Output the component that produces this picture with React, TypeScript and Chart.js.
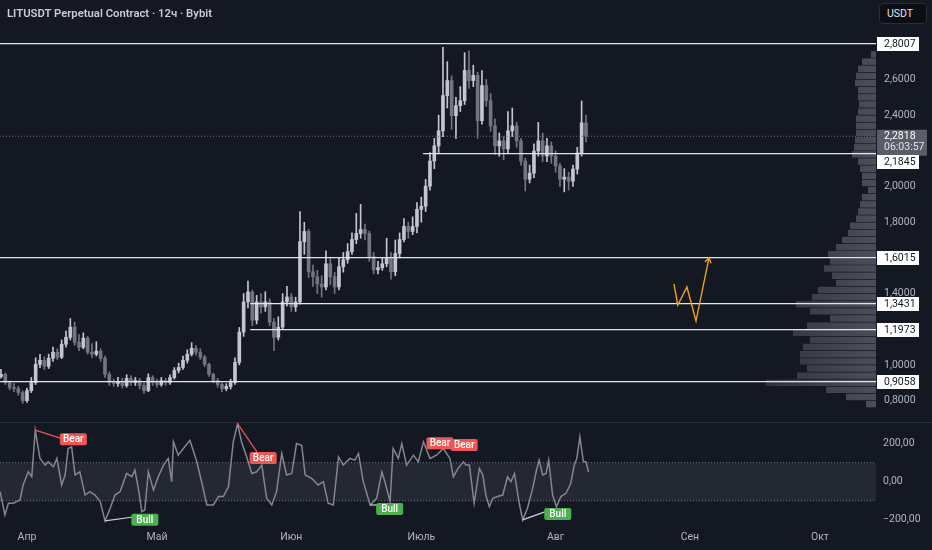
import React, { useEffect, useRef } from "react";
import { Chart, registerables } from "chart.js";

Chart.register(...registerables);

const FONT = "Roboto, 'Noto Sans', 'DejaVu Sans', sans-serif";
const BG = "#141823";
const AXIS_TEXT = "#b2b5be";

// ---------------- time axis (day 0 = 1 Apr) ----------------
const X_MIN = -6.23;
const X_MAX = 195.94;
const monthTickDays = [0, 30, 61, 91, 122, 153, 183];
const monthLabels = ["Апр", "Май", "Июн", "Июль", "Авг", "Сен", "Окт"];

// ---------------- price pane ----------------
const Y_MIN = 0.68;
const Y_MAX = 3.0456;
const priceTicks = [0.8, 1.0, 1.2, 1.4, 1.6, 1.8, 2.0, 2.2, 2.4, 2.6, 2.8];

const FIRST_DAY = -6; // first daily candle
const firstOpen = 0.935;
const closes = [
  0.947, 0.901, 0.873, 0.867, 0.845, 0.8,
  0.856, 0.901, 1.003, 1.026, 0.992, 1.037, 1.071, 1.043, 1.116, 1.155,
  1.212, 1.127, 1.099, 1.15, 1.071, 1.06, 1.077, 1.037, 0.947, 0.901,
  0.896, 0.907, 0.884, 0.924, 0.901, 0.912, 0.884, 0.856, 0.929, 0.901,
  0.89, 0.912, 0.901, 0.929, 0.969, 0.986, 1.026, 1.06, 1.093, 1.071,
  1.043, 1.003, 0.947, 0.912, 0.89, 0.867, 0.879, 0.901, 1.014, 1.184,
  1.353, 1.409, 1.251, 1.353, 1.325, 1.353, 1.24, 1.155, 1.212, 1.353,
  1.381, 1.325, 1.353, 1.691, 1.748, 1.522, 1.494, 1.454, 1.437, 1.567,
  1.494, 1.437, 1.55, 1.59, 1.635, 1.703, 1.737, 1.759, 1.737, 1.607,
  1.533, 1.545, 1.567, 1.601, 1.522, 1.624, 1.703, 1.776, 1.748, 1.776,
  1.872, 1.889, 2.002, 2.143, 2.228, 2.312, 2.51, 2.594, 2.397, 2.453,
  2.481, 2.651, 2.594, 2.623, 2.369, 2.566, 2.481, 2.34, 2.228, 2.256,
  2.211, 2.312, 2.34, 2.256, 2.143, 2.041, 2.075, 2.199, 2.256, 2.171,
  2.228, 2.171, 2.115, 2.041, 2.053, 2.03, 2.098, 2.188, 2.357, 2.282,
];
const highs = [
  0.975, 0.955, 0.91, 0.895, 0.88, 0.855,
  0.87, 0.93, 1.04, 1.06, 1.045, 1.06, 1.1, 1.09, 1.14, 1.19,
  1.26, 1.24, 1.17, 1.18, 1.16, 1.12, 1.13, 1.09, 1.05, 0.96,
  0.92, 0.93, 0.925, 0.945, 0.94, 0.93, 0.925, 0.9, 0.95, 0.94,
  0.92, 0.93, 0.925, 0.945, 0.985, 1.01, 1.05, 1.085, 1.125, 1.11,
  1.09, 1.055, 1.01, 0.955, 0.925, 0.9, 0.895, 0.92, 1.04, 1.21,
  1.4, 1.47, 1.42, 1.39, 1.4, 1.41, 1.37, 1.26, 1.27, 1.4,
  1.44, 1.4, 1.38, 1.86, 1.8, 1.76, 1.56, 1.53, 1.5, 1.64,
  1.6, 1.52, 1.6, 1.63, 1.68, 1.74, 1.85, 1.9, 1.79, 1.75,
  1.63, 1.58, 1.6, 1.71, 1.63, 1.7, 1.74, 1.82, 1.8, 1.83,
  1.91, 1.94, 2.04, 2.19, 2.27, 2.4, 2.78, 2.7, 2.62, 2.5,
  2.56, 2.75, 2.76, 2.68, 2.64, 2.65, 2.6, 2.52, 2.38, 2.3,
  2.28, 2.42, 2.44, 2.36, 2.27, 2.16, 2.12, 2.24, 2.36, 2.3,
  2.27, 2.25, 2.2, 2.13, 2.1, 2.08, 2.12, 2.22, 2.48, 2.4,
];
const lows = [
  0.925, 0.89, 0.86, 0.85, 0.83, 0.785,
  0.79, 0.845, 0.89, 0.985, 0.975, 0.98, 1.02, 1.03, 1.035, 1.1,
  1.14, 1.11, 1.08, 1.09, 1.06, 1.04, 1.05, 1.02, 0.93, 0.885,
  0.88, 0.88, 0.87, 0.875, 0.885, 0.885, 0.865, 0.84, 0.85, 0.885,
  0.875, 0.88, 0.885, 0.89, 0.92, 0.955, 0.975, 1.01, 1.05, 1.055,
  1.03, 0.99, 0.935, 0.9, 0.875, 0.85, 0.855, 0.865, 0.89, 1.0,
  1.16, 1.32, 1.22, 1.23, 1.29, 1.3, 1.22, 1.08, 1.14, 1.2,
  1.33, 1.3, 1.3, 1.34, 1.62, 1.49, 1.44, 1.4, 1.38, 1.42,
  1.45, 1.4, 1.42, 1.52, 1.57, 1.62, 1.68, 1.71, 1.7, 1.58,
  1.51, 1.51, 1.53, 1.55, 1.48, 1.5, 1.6, 1.69, 1.71, 1.73,
  1.74, 1.8, 1.86, 1.98, 2.1, 2.19, 2.28, 2.44, 2.32, 2.27,
  2.42, 2.46, 2.55, 2.56, 2.27, 2.35, 2.45, 2.31, 2.18, 2.17,
  2.15, 2.19, 2.28, 2.22, 2.12, 1.975, 2.02, 2.05, 2.17, 2.14,
  2.14, 2.13, 2.08, 2.0, 1.97, 1.98, 2.0, 2.07, 2.17, 2.25,
];

const levelPrices = [2.8007, 2.1845, 1.6015, 1.3431, 1.1973, 0.9058];
const levelStartDays = [-6.3, 91.4, -6.3, 51.5, 51.5, -6.3];
const levelLabels = ["2,8007", "2,1845", "1,6015", "1,3431", "1,1973", "0,9058"];
const levelLabelShift = [0, 8, 0, 0, 0, 0]; // px, label pushed below the last-price badge

const lastPrice = 2.2818;
const lastPriceLabel = "2,2818";
const countdownLabel = "06:03:57";

const pathDays = [149.3, 150.2, 152.3, 154.4, 157.4];
const pathPrices = [1.454, 1.336, 1.437, 1.246, 1.601];

const profilePrices = [
  2.78, 2.74, 2.7, 2.66, 2.62, 2.58, 2.54, 2.5, 2.46, 2.42,
  2.38, 2.34, 2.3, 2.26, 2.22, 2.18, 2.14, 2.1, 2.06, 2.02,
  1.98, 1.94, 1.9, 1.86, 1.82, 1.78, 1.74, 1.7, 1.66, 1.62,
  1.58, 1.54, 1.5, 1.46, 1.42, 1.38, 1.34, 1.3, 1.26, 1.22,
  1.18, 1.14, 1.1, 1.06, 1.02, 0.98, 0.94, 0.9, 0.86, 0.82, 0.78,
];
const profileVolumes = [
  0, 5, 14, 18, 20, 21, 18, 18, 17, 18,
  20, 20, 20, 21, 22, 24, 18, 16, 14, 14,
  8, 14, 16, 18, 20, 26, 28, 34, 40, 48,
  46, 52, 44, 40, 58, 64, 80, 66, 46, 69,
  83, 66, 73, 76, 76, 69, 79, 110, 50, 30, 10,
];

// ---------------- oscillator pane ----------------
const IND_MIN = -221.7;
const IND_MAX = 307.7;
const oscTicks = [200, 0, -200];
const bandUpper = 100;
const bandLower = -100;

const oscDays = [
  -6.2, -5.1, -4.3, -3.2, -1.6, -0.9, 0.3, 1.1, 1.9, 3.0,
  4.2, 4.9, 6.1, 6.9, 8.0, 8.8, 9.5, 10.3, 11.1, 12.2,
  13.4, 14.5, 15.7, 16.9, 18.0, 19.2, 20.3, 21.5, 23.0, 24.2,
  24.9, 25.7, 26.5, 27.2, 28.0, 29.2, 30.3, 31.5, 32.6, 33.4,
  33.8, 34.9, 36.1, 37.6, 39.2, 40.3, 41.5, 43.0, 44.2, 45.3,
  46.5, 47.6, 48.6, 49.5, 50.7, 51.9, 53.0, 54.2, 55.3, 56.5,
  57.6, 58.8, 59.9, 61.1, 62.2, 63.4, 64.2, 65.7, 67.2, 68.4,
  69.5, 70.7, 71.9, 73.0, 74.5, 75.7, 76.5, 77.6, 79.2, 80.7,
  81.9, 82.6, 83.8, 84.5, 85.7, 86.5, 87.6, 89.2, 90.3, 91.5,
  93.0, 94.5, 96.1, 97.6, 98.4, 99.5, 100.7,
  101.3, 102.1, 103.2, 104.4, 105.2, 105.9, 106.7, 107.5, 108.6, 109.8,
  110.9, 111.7, 112.5, 113.6, 114.4, 115.5, 116.7, 117.5, 118.2, 119.0,
  119.8, 120.4, 121.3, 122.2, 123.2, 124.4, 125.5, 126.3, 126.9, 127.6,
  128.4, 129.0, 129.6,
];
const oscValues = [
  -52, -174, -113, -113, -96, -17, 52, 26, 270, 122,
  87, 104, 78, 122, -17, 35, 174, 183, 35, 52,
  -70, -52, -70, -104, -205, -139, -70, -52, 43, 26,
  61, -35, -157, -148, 52, -44, 26, 87, 122, 0,
  209, 139, 174, 217, 104, 0, -122, -122, -78, -78,
  -26, 209, 304, 209, 130, 43, 52, 87, -87, -122,
  -52, 148, 35, 43, 200, 191, 35, 17, -17, 0,
  -113, -122, 130, 87, 122, 113, 148, 0, -122, -87,
  52, 0, -104, 174, 122, 200, 87, 139, 104, 209,
  122, 139, 174, 122, 26, 70, 104,
  87, 87, -113, 70, 35, -70, -131, -87, -78, -70,
  26, 0, 43, -113, -200, -139, -35, 52, 113, 35,
  43, 113, -70, -131, -78, -61, -9, 87, 122, 235,
  104, 104, 52,
];

const divKinds = ["Bear", "Bear", "Bull", "Bull", "Bull"];
const divStartDays = [1.9, 48.6, 18.0, 79.2, 114.4];
const divStartValues = [270, 304, -205, -122, -200];
const divEndDays = [9.5, 53.1, 24.5, 81.5, 119.5];
const divEndValues = [215, 155, -185, -122, -158];

const tagKinds = ["Bear", "Bear", "Bear", "Bear", "Bull", "Bull", "Bull"];
const tagDays = [10.7, 54.5, 95.3, 100.9, 27.2, 83.7, 122.5];
const tagValues = [223, 124, 202, 192, -200, -143, -169];

// ---------------- helpers ----------------
const UP = "#c3c6ce";
const DOWN = "#737680";
const fmt4 = (v: number) => v.toFixed(4).replace(".", ",");
const fmt2 = (v: number) => {
  const s = Math.abs(v).toFixed(2).replace(".", ",");
  return v < 0 ? "\u2212" + s : s;
};

function roundRect(ctx: CanvasRenderingContext2D, x: number, y: number, w: number, h: number, r: number) {
  ctx.beginPath();
  ctx.moveTo(x + r, y);
  ctx.lineTo(x + w - r, y);
  ctx.quadraticCurveTo(x + w, y, x + w, y + r);
  ctx.lineTo(x + w, y + h - r);
  ctx.quadraticCurveTo(x + w, y + h, x + w - r, y + h);
  ctx.lineTo(x + r, y + h);
  ctx.quadraticCurveTo(x, y + h, x, y + h - r);
  ctx.lineTo(x, y + r);
  ctx.quadraticCurveTo(x, y, x + r, y);
  ctx.closePath();
}

const zeroPad = (s: any) => {
  s.paddingTop = 0;
  s.paddingBottom = 0;
  s.paddingLeft = 0;
  s.paddingRight = 0;
};

const mainOverlay = {
  id: "mainOverlay",
  afterDraw(chart: any) {
    const ctx: CanvasRenderingContext2D = chart.ctx;
    const ys = chart.scales.y;
    const xs = chart.scales.x;
    const left = chart.chartArea.right + 1;
    ctx.save();
    // orange arrow head
    const n = pathDays.length;
    const x2 = xs.getPixelForValue(pathDays[n - 1]);
    const y2 = ys.getPixelForValue(pathPrices[n - 1]);
    const x1 = xs.getPixelForValue(pathDays[n - 2]);
    const y1 = ys.getPixelForValue(pathPrices[n - 2]);
    const ang = Math.atan2(y2 - y1, x2 - x1);
    ctx.strokeStyle = "#f0a21d";
    ctx.lineWidth = 1.4;
    ctx.beginPath();
    ctx.moveTo(x2 - 6 * Math.cos(ang - 0.55), y2 - 6 * Math.sin(ang - 0.55));
    ctx.lineTo(x2, y2);
    ctx.lineTo(x2 - 6 * Math.cos(ang + 0.55), y2 - 6 * Math.sin(ang + 0.55));
    ctx.stroke();

    ctx.font = `10.5px ${FONT}`;
    ctx.textBaseline = "middle";
    ctx.textAlign = "left";
    // last price badge
    const py = ys.getPixelForValue(lastPrice);
    ctx.fillStyle = "#5a5d67";
    ctx.fillRect(left, py - 6.5, 50, 26);
    ctx.fillStyle = "#ffffff";
    ctx.fillText(lastPriceLabel, left + 7, py + 0.5);
    ctx.fillStyle = "#e0e3eb";
    ctx.fillText(countdownLabel, left + 7, py + 11.5);
    // level badges
    levelPrices.forEach((p, i) => {
      const ly = Math.round(ys.getPixelForValue(p)) + levelLabelShift[i];
      ctx.fillStyle = "#ffffff";
      ctx.fillRect(left, ly - 7, 42, 14);
      ctx.fillStyle = "#131722";
      ctx.fillText(levelLabels[i], left + 7, ly + 0.5);
    });
    ctx.restore();
  },
};

const oscOverlay = {
  id: "oscOverlay",
  afterDatasetsDraw(chart: any) {
    const ctx: CanvasRenderingContext2D = chart.ctx;
    const ys = chart.scales.y;
    const xs = chart.scales.x;
    ctx.save();
    ctx.font = `500 10px ${FONT}`;
    ctx.textAlign = "center";
    ctx.textBaseline = "middle";
    tagKinds.forEach((k, i) => {
      const cx = xs.getPixelForValue(tagDays[i]);
      const cy = ys.getPixelForValue(tagValues[i]);
      ctx.fillStyle = k === "Bear" ? "#f05656" : "#4caf50";
      roundRect(ctx, cx - 13.5, cy - 6, 27, 12, 2);
      ctx.fill();
      ctx.fillStyle = "#ffffff";
      ctx.fillText(k, cx, cy + 0.5);
    });
    ctx.restore();
  },
};

function baseOptions() {
  return {
    responsive: false,
    maintainAspectRatio: false,
    animation: false as const,
    events: [] as any[],
    plugins: { legend: { display: false }, tooltip: { enabled: false } },
  };
}

function profileConfig(): any {
  return {
    type: "bar",
    data: {
      datasets: [
        {
          data: profilePrices.map((p, i) => ({ x: profileVolumes[i], y: p })),
          backgroundColor: (c: any) => {
            const area = c.chart.chartArea;
            if (!area) return "#3c3f49";
            const g = c.chart.ctx.createLinearGradient(area.right - 130, 0, area.right, 0);
            g.addColorStop(0, "#2c2f39");
            g.addColorStop(1, "#4b4e58");
            return g;
          },
          borderWidth: 0,
          barPercentage: 0.9,
          categoryPercentage: 1,
        },
      ],
    },
    options: {
      ...baseOptions(),
      indexAxis: "y",
      layout: { padding: { right: 56, left: 0, top: 0, bottom: 0 }, autoPadding: false },
      scales: {
        x: { type: "linear", min: 0, max: 876, reverse: true, display: false },
        y: { type: "linear", min: Y_MIN, max: Y_MAX, display: false, offset: false },
      },
    },
  };
}

function mainConfig(): any {
  const opens = closes.map((c, i) => (i === 0 ? firstOpen : closes[i - 1]));
  const colors = closes.map((c, i) => (c >= opens[i] ? UP : DOWN));
  const datasets: any[] = [
    {
      type: "bar",
      data: closes.map((c, i) => ({ x: FIRST_DAY + i, y: [lows[i], highs[i]] })),
      backgroundColor: colors,
      barThickness: 1,
      grouped: false,
      borderWidth: 0,
      order: 3,
    },
    {
      type: "bar",
      data: closes.map((c, i) => ({ x: FIRST_DAY + i, y: [opens[i], c] })),
      backgroundColor: colors,
      barThickness: 3,
      minBarLength: 1,
      grouped: false,
      borderWidth: 0,
      order: 2,
    },
    {
      type: "line",
      data: [
        { x: X_MIN, y: lastPrice },
        { x: X_MAX, y: lastPrice },
      ],
      borderColor: "#6b6e78",
      borderWidth: 1,
      borderDash: [1, 2],
      pointRadius: 0,
      order: 1,
    },
    ...levelPrices.map((p, i) => ({
      type: "line",
      data: [
        { x: levelStartDays[i], y: p },
        { x: X_MAX, y: p },
      ],
      borderColor: "#e3e5eb",
      borderWidth: 1.2,
      pointRadius: 0,
      order: 1,
    })),
    {
      type: "line",
      data: pathDays.map((d, i) => ({ x: d, y: pathPrices[i] })),
      borderColor: "#f0a21d",
      borderWidth: 1.4,
      pointRadius: 0,
      tension: 0,
      order: 0,
    },
  ];
  return {
    type: "bar",
    data: { datasets },
    options: {
      ...baseOptions(),
      layout: { padding: 0, autoPadding: false },
      scales: {
        x: { type: "linear", min: X_MIN, max: X_MAX, display: false, offset: false },
        y: {
          type: "linear",
          position: "right",
          min: Y_MIN,
          max: Y_MAX,
          offset: false,
          grid: { display: false, drawTicks: false },
          border: { display: false },
          afterBuildTicks: (s: any) => {
            s.ticks = priceTicks.map((v) => ({ value: v }));
          },
          afterFit: (s: any) => {
            s.width = 56;
            zeroPad(s);
          },
          ticks: {
            padding: 8,
            color: AXIS_TEXT,
            font: { family: FONT, size: 10.5 },
            callback: (v: any) => fmt4(Number(v)),
          },
        },
      },
    },
    plugins: [mainOverlay],
  };
}

function oscConfig(): any {
  const datasets: any[] = [
    {
      type: "line",
      data: [
        { x: X_MIN, y: bandUpper },
        { x: X_MAX, y: bandUpper },
      ],
      borderColor: "rgba(140,144,156,0.75)",
      borderWidth: 1,
      borderDash: [1, 2],
      pointRadius: 0,
      fill: false,
      order: 5,
    },
    {
      type: "line",
      data: [
        { x: X_MIN, y: bandLower },
        { x: X_MAX, y: bandLower },
      ],
      borderColor: "rgba(140,144,156,0.75)",
      borderWidth: 1,
      borderDash: [1, 2],
      pointRadius: 0,
      fill: "-1",
      backgroundColor: "rgba(150,155,170,0.12)",
      order: 4,
    },
    {
      type: "line",
      data: oscDays.map((d, i) => ({ x: d, y: oscValues[i] })),
      borderColor: "#84878f",
      borderWidth: 1.5,
      pointRadius: 0,
      tension: 0,
      fill: false,
      order: 2,
    },
    ...divKinds.map((k, i) => ({
      type: "line",
      data: [
        { x: divStartDays[i], y: divStartValues[i] },
        { x: divEndDays[i], y: divEndValues[i] },
      ],
      borderColor: k === "Bear" ? "#f05656" : "#cfd2d8",
      borderWidth: 1.2,
      pointRadius: 0,
      fill: false,
      order: 1,
    })),
  ];
  return {
    type: "line",
    data: { datasets },
    options: {
      ...baseOptions(),
      layout: { padding: 0, autoPadding: false },
      scales: {
        x: {
          type: "linear",
          min: X_MIN,
          max: X_MAX,
          offset: false,
          grid: { display: false, drawTicks: false },
          border: { display: false },
          afterBuildTicks: (s: any) => {
            s.ticks = monthTickDays.map((v) => ({ value: v }));
          },
          afterFit: (s: any) => {
            s.height = 26;
            zeroPad(s);
          },
          ticks: {
            padding: 7,
            color: AXIS_TEXT,
            maxRotation: 0,
            autoSkip: false,
            font: { family: FONT, size: 10.5 },
            callback: (v: any) => {
              const idx = monthTickDays.indexOf(Number(v));
              return idx >= 0 ? monthLabels[idx] : "";
            },
          },
        },
        y: {
          type: "linear",
          position: "right",
          min: IND_MIN,
          max: IND_MAX,
          offset: false,
          grid: { display: false, drawTicks: false },
          border: { display: false },
          afterBuildTicks: (s: any) => {
            s.ticks = oscTicks.map((v) => ({ value: v }));
          },
          afterFit: (s: any) => {
            s.width = 56;
            zeroPad(s);
          },
          ticks: {
            padding: 7,
            color: AXIS_TEXT,
            font: { family: FONT, size: 10.5 },
            callback: (v: any) => fmt2(Number(v)),
          },
        },
      },
    },
    plugins: [oscOverlay],
  };
}

export default function App() {
  const profRef = useRef<HTMLCanvasElement>(null);
  const mainRef = useRef<HTMLCanvasElement>(null);
  const oscRef = useRef<HTMLCanvasElement>(null);

  useEffect(() => {
    document.body.style.margin = "0";
    document.body.style.background = BG;
    const charts: Chart[] = [];
    if (profRef.current) charts.push(new Chart(profRef.current, profileConfig()));
    if (mainRef.current) charts.push(new Chart(mainRef.current, mainConfig()));
    if (oscRef.current) charts.push(new Chart(oscRef.current, oscConfig()));
    return () => {
      charts.forEach((c) => c.destroy());
    };
  }, []);

  return (
    <div
      style={{
        position: "fixed",
        left: 0,
        top: 0,
        width: 932,
        height: 550,
        background: BG,
        overflow: "hidden",
        fontFamily: FONT,
      }}
    >
      <canvas ref={profRef} width={932} height={422} style={{ position: "absolute", left: 0, top: 0 }} />
      <canvas ref={mainRef} width={932} height={422} style={{ position: "absolute", left: 0, top: 0 }} />
      <div style={{ position: "absolute", left: 0, top: 422, width: 932, height: 1, background: "#2a2e39" }} />
      <canvas ref={oscRef} width={932} height={127} style={{ position: "absolute", left: 0, top: 423 }} />
      <div
        style={{
          position: "absolute",
          left: 7,
          top: 6,
          fontSize: 11.3,
          fontWeight: 600,
          color: "#c9ccd4",
          whiteSpace: "nowrap",
          lineHeight: "16px",
        }}
      >
        LITUSDT Perpetual Contract · 12ч · Bybit
      </div>
      <div
        style={{
          position: "absolute",
          left: 879,
          top: 3,
          width: 48,
          height: 21,
          boxSizing: "border-box",
          border: "1px solid #2a2e39",
          borderRadius: 4,
          background: "#0c0e13",
          color: "#e0e3eb",
          fontSize: 10.5,
          lineHeight: "19px",
          paddingLeft: 7,
        }}
      >
        USDT
      </div>
    </div>
  );
}
